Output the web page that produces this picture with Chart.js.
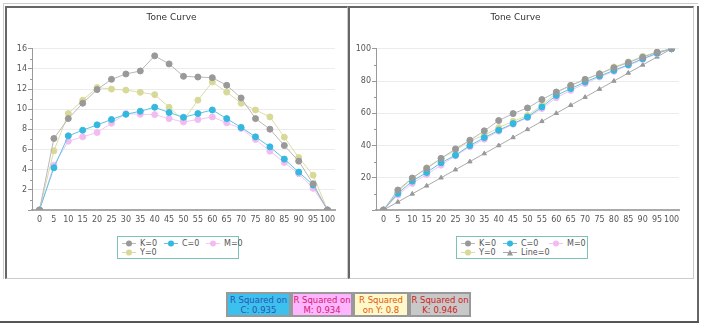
<!DOCTYPE html>
<html>
<head>
<meta charset="utf-8">
<script src="https://cdn.jsdelivr.net/npm/chart.js@4.4.1/dist/chart.umd.min.js"></script>
<style>
  body { margin:0; width:702px; height:325px; background:#fff; position:relative; overflow:hidden;
         font-family:"DejaVu Sans", Verdana, sans-serif; }
  .abs { position:absolute; }
  .panel { position:absolute; box-sizing:border-box; border-top:2px solid #666; border-left:2px solid #666;
           border-right:1px solid #ccc; border-bottom:1px solid #ccc; }
  .legend { position:absolute; box-sizing:border-box; border:1px solid #7cc2b6; font-size:8px; color:#555; }
  .item { position:absolute; height:9px; line-height:9px; white-space:nowrap; }
  .item svg { vertical-align:top; margin-right:4px; }
  .rsq { position:absolute; top:292px; height:25px; box-sizing:border-box; border:2px solid #999;
         font-size:8.5px; line-height:10px; text-align:center; padding-top:1px; }
</style>
</head>
<body>
<!-- page frame -->
<div class="abs" style="left:4px;top:3px;width:694px;height:1px;background:#ccc"></div>
<div class="abs" style="left:3px;top:3px;width:1px;height:276px;background:#ccc"></div>
<div class="abs" style="left:697px;top:6px;width:2px;height:317px;background:#666"></div>
<div class="abs" style="left:0;top:321px;width:699px;height:2px;background:#555"></div>
<div class="panel" style="left:5px;top:6px;width:343px;height:273px"></div>
<div class="panel" style="left:348px;top:6px;width:346px;height:273px"></div>

<canvas id="left" class="abs" style="left:8px;top:9px"></canvas>
<canvas id="right" class="abs" style="left:352px;top:9px"></canvas>

<div id="legendLeft" class="legend" style="left:117px;top:236px;width:122px;height:23px"></div>
<div id="legendRight" class="legend" style="left:456px;top:236px;width:132px;height:23px"></div>

<div class="rsq" style="left:226px;width:65px;background:#3cc0ee;color:#2a55b0">R Squared on<br>C: 0.935</div>
<div class="rsq" style="left:291px;width:62px;background:#ffb4ff;color:#d02070">R Squared on<br>M: 0.934</div>
<div class="rsq" style="left:353px;width:56px;background:#fff8c8;color:#e05a10">R Squared<br>on Y: 0.8</div>
<div class="rsq" style="left:409px;width:62px;background:#c8c8c8;color:#cc2222">R Squared on<br>K: 0.946</div>

<script>
// input levels
var levels = [0, 5, 10, 15, 20, 25, 30, 35, 40, 45, 50, 55, 60, 65, 70, 75, 80, 85, 90, 95, 100];

// difference curves (left)
var diffK = [0, 7.1, 9.07, 10.6, 11.95, 12.97, 13.5, 13.8, 15.3, 14.5, 13.27, 13.2, 13.13, 12.38, 11.12, 9.07, 8.02, 6.4, 4.85, 2.6, 0];
var diffC = [0, 4.19, 7.36, 7.92, 8.45, 8.98, 9.5, 9.8, 10.2, 9.67, 9.2, 9.57, 9.93, 9.07, 8.2, 7.26, 6.27, 5.05, 3.76, 2.48, 0];
var diffM = [0, 4.45, 6.83, 7.26, 7.69, 8.61, 9.57, 9.5, 9.47, 9.07, 8.74, 8.98, 9.24, 8.65, 8.09, 7.0, 5.84, 4.72, 3.6, 2.15, 0];
var diffY = [0, 5.87, 9.57, 10.9, 12.15, 12.0, 11.9, 11.68, 11.45, 10.2, 8.9, 10.9, 12.7, 11.7, 10.6, 9.93, 9.24, 7.23, 5.2, 3.46, 0];

// output curves (right)
var toneK = [0, 12.4, 19.8, 25.8, 32, 37.9, 43.3, 49.1, 55.5, 59.8, 63.3, 68.5, 73.2, 77.3, 81, 84.5, 88.2, 91.5, 94.8, 97.9, 100];
var toneC = [0, 10.3, 17.9, 23.3, 29.3, 34, 40, 44.9, 49.5, 53.6, 57.7, 63.9, 71.1, 75.3, 79.4, 83.1, 86.6, 90.1, 93.8, 97.3, 100];
var toneM = [0, 9.3, 16.5, 22, 27.8, 33.6, 39.2, 43.9, 48.9, 53.2, 57.3, 62.9, 69.7, 74.2, 78.4, 82.5, 86, 89.7, 93.4, 96.9, 100];
var toneY = [0, 11.3, 19.8, 26.2, 32, 37, 42.9, 46.4, 51.1, 55, 58.6, 65, 72.6, 77.3, 81, 84.5, 88.7, 91.8, 95.3, 98, 100];
var toneLine = [0, 5, 10, 15, 20, 25, 30, 35, 40, 45, 50, 55, 60, 65, 70, 75, 80, 85, 90, 95, 100];

var leftTicks = [0, 2, 4, 6, 8, 10, 12, 14, 16];
var rightTicks = [0, 20, 40, 60, 80, 100];

var styles = {
    K: { line: '#b8b8b8', point: '#999999', shape: 'circle' },
    C: { line: '#5cc4e4', point: '#33b8e0', shape: 'circle' },
    M: { line: '#f4c6f4', point: '#f2bcf2', shape: 'circle' },
    Y: { line: '#dcdca8', point: '#d8d898', shape: 'circle' },
    Line: { line: '#aaaaaa', point: '#999999', shape: 'triangle' }
};

function series(label, key, values) {
    var s = styles[key];
    return {
        label: label,
        data: values.map(function(v, i) { return { x: levels[i], y: v }; }),
        borderColor: s.line,
        backgroundColor: s.point,
        pointBorderColor: s.point,
        pointBackgroundColor: s.point,
        pointStyle: s.shape,
        pointRadius: s.shape === 'triangle' ? 2.5 : 3,
        borderWidth: 1,
        tension: 0
    };
}

// half-step tick marks on the value axis
var minorTicks = {
    id: 'minorTicks',
    afterDraw: function(chart) {
        var y = chart.scales.y, ctx = chart.ctx, step = chart.options.scales.y.ticks.stepSize / 2;
        ctx.save();
        ctx.strokeStyle = '#999';
        ctx.lineWidth = 1;
        for (var v = step; v < y.max; v += step * 2) {
            var py = Math.round(y.getPixelForValue(v)) + 0.5;
            ctx.beginPath();
            ctx.moveTo(y.right - 2, py);
            ctx.lineTo(y.right, py);
            ctx.stroke();
        }
        ctx.restore();
    }
};

function makeChart(id, datasets, tickList, step, yWidth) {
    var canvas = document.getElementById(id);
    canvas.width = 338;
    canvas.height = 220;
    return new Chart(canvas, {
        type: 'line',
        data: { datasets: datasets },
        plugins: [minorTicks],
        options: {
            responsive: false,
            animation: false,
            layout: { padding: { left: 0, right: 11, top: 0, bottom: 0 } },
            plugins: {
                legend: { display: false },
                tooltip: { enabled: false },
                title: {
                    display: true,
                    text: 'Tone Curve',
                    color: '#333',
                    font: { family: 'DejaVu Sans', size: 9, weight: 'normal' },
                    padding: { top: 3, bottom: 26 }
                }
            },
            scales: {
                x: {
                    type: 'linear',
                    min: -2.6,
                    max: 102.6,
                    afterBuildTicks: function(scale) {
                        scale.ticks = levels.map(function(v) { return { value: v }; });
                    },
                    afterFit: function(scale) { scale.height = 19; },
                    grid: { display: false, drawTicks: false },
                    border: { color: '#aaa', width: 2 },
                    ticks: {
                        color: '#555',
                        padding: 5,
                        maxRotation: 0,
                        autoSkip: false,
                        font: { family: 'DejaVu Sans', size: 8 }
                    }
                },
                y: {
                    min: tickList[0],
                    max: tickList[tickList.length - 1],
                    afterFit: function(scale) { scale.width = yWidth; },
                    grid: { color: '#ececec', tickColor: '#999', tickLength: 4 },
                    border: { color: '#999' },
                    ticks: {
                        stepSize: step,
                        color: '#555',
                        padding: 1,
                        font: { family: 'DejaVu Sans', size: 8 },
                        callback: function(v) { return v === 0 ? '' : v; }
                    }
                }
            }
        }
    });
}

makeChart('left', [
    series('K=0', 'K', diffK),
    series('C=0', 'C', diffC),
    series('M=0', 'M', diffM),
    series('Y=0', 'Y', diffY)
], leftTicks, 2, 24);

makeChart('right', [
    series('K=0', 'K', toneK),
    series('C=0', 'C', toneC),
    series('M=0', 'M', toneM),
    series('Y=0', 'Y', toneY),
    series('Line=0', 'Line', toneLine)
], rightTicks, 20, 24);

// boxed legends under each chart
function icon(key) {
    var s = styles[key];
    var mark = s.shape === 'triangle'
        ? '<polygon points="7,1.5 10,7.5 4,7.5" fill="' + s.point + '"/>'
        : '<circle cx="7" cy="4.5" r="3" fill="' + s.point + '"/>';
    return '<svg width="14" height="9"><line x1="0" y1="4.5" x2="14" y2="4.5" stroke="' + s.line + '" stroke-width="1"/>' + mark + '</svg>';
}

function legend(id, items, cols) {
    var box = document.getElementById(id);
    items.forEach(function(it, i) {
        var el = document.createElement('div');
        el.className = 'item';
        el.style.left = cols[i % 3] + 'px';
        el.style.top = (2 + Math.floor(i / 3) * 9) + 'px';
        el.innerHTML = icon(it[1]) + it[0];
        box.appendChild(el);
    });
}

legend('legendLeft', [['K=0', 'K'], ['C=0', 'C'], ['M=0', 'M'], ['Y=0', 'Y']], [4, 46, 88]);
legend('legendRight', [['K=0', 'K'], ['C=0', 'C'], ['M=0', 'M'], ['Y=0', 'Y'], ['Line=0', 'Line']], [4, 46, 92]);
</script>
</body>
</html>
